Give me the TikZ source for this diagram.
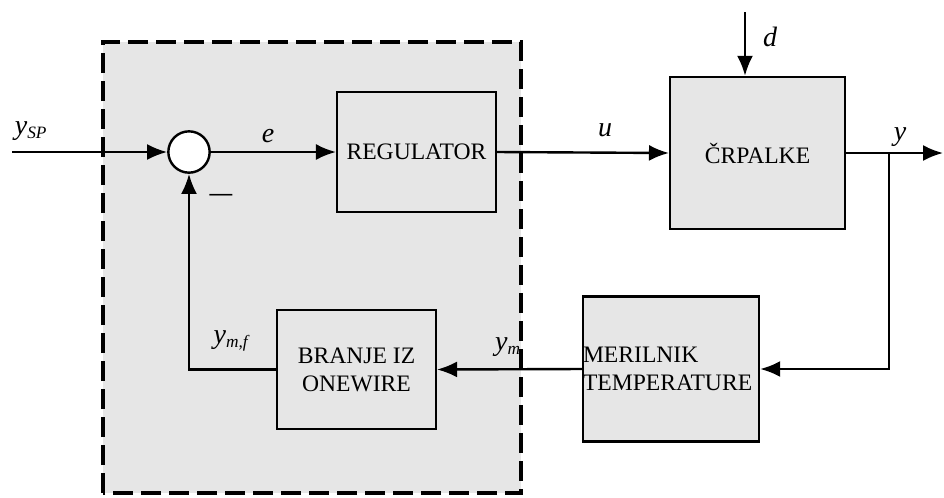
\documentclass[tikz,border=0pt]{standalone}
\usepackage{fontspec}
\setmainfont{Liberation Serif}
\usetikzlibrary{positioning,arrows.meta}
\definecolor{boxgray}{HTML}{E6E6E6}
\tikzset{
  blk/.style={draw,line width=1.8pt,fill=boxgray,inner sep=0pt,font=\fontsize{17.7}{21}\selectfont},
  sig/.style={inner sep=0pt,font=\fontsize{21}{21}\selectfont\itshape},
}
\newcommand{\sgn}[2]{#1\textsubscript{\fontsize{13}{13}\selectfont #2}}

\begin{document}
\begin{tikzpicture}[x=0.75pt,y=-0.75pt,>={Latex[length=15pt,width=12pt]},line width=1.8pt]
\useasboundingbox (0,0) rectangle (944,497);
% controller part
\draw[fill=boxgray,line width=3.2pt,dash pattern=on 15pt off 6pt] (103,493) -- (103,42) -- (521,42) -- (521,493) -- cycle;

\path
(189,152) node[circle,draw,fill=white,minimum size=31pt,inner sep=0pt] (sum) {}
(416.5,152) node[blk,minimum width=119pt,minimum height=90pt] (reg) {REGULATOR}
(757.5,153) node[blk,minimum width=131pt,minimum height=114pt] (pump) {ČRPALKE}
(671,369) node[blk,minimum width=132pt,minimum height=109pt,text width=132pt,align=left] (meas) {MERILNIK\\TEMPERATURE}
(356.5,369.5) node[blk,minimum width=119pt,minimum height=89pt,align=center] (filt) {BRANJE IZ\\ONEWIRE};

\coordinate (in) at (12,152);
\coordinate (dist) at (745,12);
\coordinate (out) at (943,153);
\coordinate (br) at (889,153);

\draw[->] (in)--(sum.west);
\draw[->] (sum.east)--(reg.west);
\draw[->] (reg.east)--(pump.west);
\draw[->] (dist)--(dist |- pump.north);
\draw[->] (pump.east)--(out);
\draw[->] (br) |- (meas.east);
\draw[->] (meas.west)--(filt.east);
\draw[->] (filt.west) -| (sum.south);

\path
(31,131) node[sig] (lsp) {\sgn{y}{SP}}
(268,136) node[sig] (le) {e}
(605,130) node[sig] (lu) {u}
(770,37) node[sig] (ld) {d}
(900,137) node[sig] (ly) {y}
(508,347) node[sig] (lm) {\sgn{y}{m}}
(231,341) node[sig] (lmf) {\sgn{y}{m,f}}
(221,197) node[inner sep=0pt,font=\fontsize{17}{17}\selectfont\bfseries] (minus) {—};
\end{tikzpicture}
\end{document}
